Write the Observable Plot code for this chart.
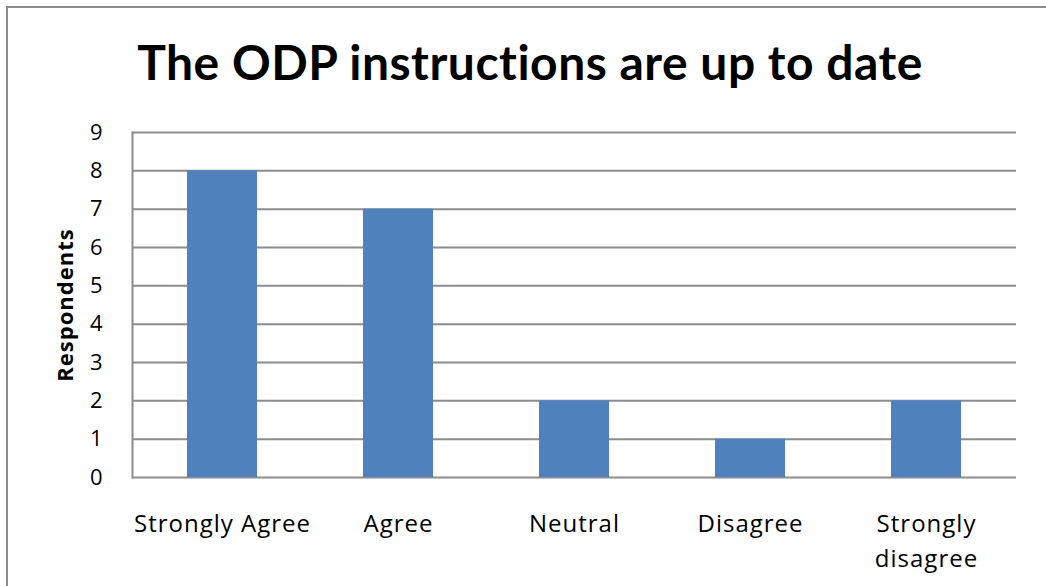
<!DOCTYPE html>
<html>
<head>
<meta charset="utf-8">
<script src="https://cdn.jsdelivr.net/npm/d3@7"></script>
<script src="https://cdn.jsdelivr.net/npm/@observablehq/plot@0.6"></script>
<style>
  html, body { margin: 0; padding: 0; background: #fff; }
  #chart { position: relative; width: 1046px; height: 586px; overflow: hidden; font-family: "Open Sans", sans-serif; }
  #frame { position: absolute; left: 6px; top: 6px; width: 1100px; height: 700px; border-top: 2px solid #8c8c8c; border-left: 2px solid #8c8c8c; pointer-events: none; }
  #title { position: absolute; left: 0; top: 0; width: 1060px; height: 110px; text-align: center; font-family: Lato, sans-serif; font-weight: 700; font-size: 48px; letter-spacing: 0.5px; line-height: 1; padding-top: 38px; box-sizing: border-box; color: #000; }
  #plot { position: absolute; left: 0; top: 110px; }
  #plot svg text { letter-spacing: 1px; }
</style>
</head>
<body>
<div id="chart">
  <div id="title">The ODP instructions are up to date</div>
  <div id="plot"></div>
  <div id="frame"></div>
</div>
<script>
// Survey responses
const categories = ["Strongly Agree", "Agree", "Neutral", "Disagree", "Strongly disagree"];
const respondents = [8, 7, 2, 1, 2];
const tickLabels = ["Strongly Agree", "Agree", "Neutral", "Disagree", "Strongly\ndisagree"];
const yTicks = [0, 1, 2, 3, 4, 5, 6, 7, 8, 9];

const rows = categories.map((c, i) => ({ category: c, value: respondents[i] }));
const labelOf = new Map(categories.map((c, i) => [c, tickLabels[i]]));

const chart = Plot.plot({
  width: 1046,
  height: 476,
  marginLeft: 132,
  marginRight: 30,
  marginTop: 22,
  marginBottom: 109,
  style: { fontFamily: "'Open Sans', sans-serif", color: "#000", background: "transparent" },
  x: { domain: categories, paddingInner: 0.6, paddingOuter: 0.3, label: null },
  y: { domain: [0, 9], label: null },
  marks: [
    Plot.gridY(yTicks, { stroke: "#8c8c8c", strokeOpacity: 1, strokeWidth: 2 }),
    Plot.frame({ anchor: "left", stroke: "#8c8c8c", strokeWidth: 2 }),
    Plot.barY(rows, { x: "category", y: "value", fill: "#4f81bd" }),
    Plot.axisY({ ticks: yTicks, tickSize: 0, tickPadding: 29, fontSize: 22, label: null }),
    Plot.axisX({ tickSize: 0, tickPadding: 30, fontSize: 24, lineHeight: 1.45, tickFormat: (d) => labelOf.get(d), label: null }),
    Plot.text(["Respondents"], { frameAnchor: "left", dx: -67, rotate: -90, fontSize: 22, fontWeight: "bold", textAnchor: "middle", lineAnchor: "middle" })
  ]
});
document.getElementById("plot").appendChild(chart);
</script>
</body>
</html>
